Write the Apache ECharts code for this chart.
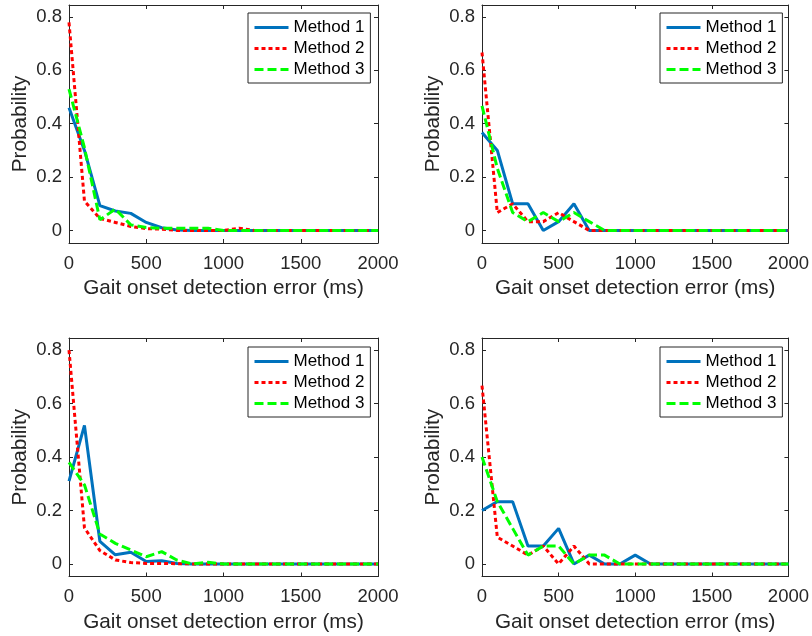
<!DOCTYPE html>
<html>
<head>
<meta charset="utf-8">
<script src="https://cdn.jsdelivr.net/npm/echarts@6/dist/echarts.min.js"></script>
<style>
html,body{margin:0;padding:0;background:#fff;}
#chart{width:812px;height:636px;}
</style>
</head>
<body>
<div id="chart"></div>
<script>
// ---- data ----
var xValues = [0,100,200,300,400,500,600,700,800,900,1000,1100,1200,1300,1400,1500,1600,1700,1800,1900,2000];
var seriesNames = ['Method 1','Method 2','Method 3'];
var xTicks = [0,500,1000,1500,2000];
var yTicks = [0,0.2,0.4,0.6,0.8];
var xLabel = 'Gait onset detection error (ms)';
var yLabel = 'Probability';

// panel 1 (top-left)
var p1Method1 = [0.46,0.30,0.093,0.073,0.064,0.03,0.01,0.002,0,0,0,0,0,0,0,0,0,0,0,0,0];
var p1Method2 = [0.78,0.11,0.045,0.03,0.015,0.007,0.005,0,0,0,0,0.008,0,0,0,0,0,0,0,0,0];
var p1Method3 = [0.53,0.31,0.04,0.08,0.021,0.011,0.008,0.008,0.008,0.008,0,0,0,0,0,0,0,0,0,0,0];
// panel 2 (top-right)
var p2Method1 = [0.367,0.3,0.1,0.1,0,0.033,0.1,0,0,0,0,0,0,0,0,0,0,0,0,0,0];
var p2Method2 = [0.667,0.067,0.1,0.033,0.033,0.067,0.033,0,0,0,0,0,0,0,0,0,0,0,0,0,0];
var p2Method3 = [0.467,0.233,0.067,0.033,0.067,0.033,0.067,0.033,0,0,0,0,0,0,0,0,0,0,0,0,0];
// panel 3 (bottom-left)
var p3Method1 = [0.31,0.518,0.084,0.034,0.044,0.009,0.012,0.002,0,0,0,0,0,0,0,0,0,0,0,0,0];
var p3Method2 = [0.80,0.135,0.05,0.015,0.005,0.002,0.002,0.001,0,0,0,0,0,0,0,0,0,0,0,0,0];
var p3Method3 = [0.38,0.296,0.112,0.077,0.052,0.027,0.046,0.014,0,0.006,0,0,0,0,0,0,0,0,0,0,0];
// panel 4 (bottom-right)
var p4Method1 = [0.2,0.233,0.233,0.067,0.067,0.133,0,0.033,0,0,0.033,0,0,0,0,0,0,0,0,0,0];
var p4Method2 = [0.667,0.1,0.067,0.033,0.067,0,0.067,0,0,0,0,0,0,0,0,0,0,0,0,0,0];
var p4Method3 = [0.4,0.233,0.133,0.033,0.067,0.067,0,0.033,0.033,0,0,0,0,0,0,0,0,0,0,0,0];

var panels = [
  [p1Method1,p1Method2,p1Method3],
  [p2Method1,p2Method2,p2Method3],
  [p3Method1,p3Method2,p3Method3],
  [p4Method1,p4Method2,p4Method3]
];

// ---- layout / style ----
var FONT = '"Liberation Sans", Helvetica, Arial, sans-serif';
var AX = '#262626';
var grids = [
  {left:69, top:5, width:309, height:238},
  {left:482, top:5, width:307, height:238},
  {left:69, top:338, width:309, height:238.5},
  {left:482, top:338, width:307, height:238.5}
];
var legendPos = [
  {left:248, top:13},
  {left:660, top:13},
  {left:248, top:347},
  {left:660, top:347}
];
var lineStyles = [
  {color:'#0072BD', width:3, type:'solid'},
  {color:'#FF0000', width:3, type:[4,3]},
  {color:'#00FF00', width:3, type:[9,4]}
];
var Y_MIN = -0.047, Y_MAX = 0.845;

var option = {
  animation:false,
  backgroundColor:'#fff',
  textStyle:{fontFamily:FONT},
  grid:[], xAxis:[], yAxis:[], legend:[], series:[]
};

grids.forEach(function(g, i){
  option.grid.push(Object.assign({show:false, containLabel:false}, g));
  // bottom x
  option.xAxis.push({
    type:'value', gridIndex:i, position:'bottom', min:0, max:2000, interval:500,
    axisLine:{show:true, onZero:false, lineStyle:{color:AX, width:1}},
    axisTick:{show:true, inside:true, length:4, lineStyle:{color:AX}, customValues:xTicks},
    axisLabel:{show:true, color:AX, fontSize:18.5, margin:11, fontFamily:FONT, customValues:xTicks,
      formatter:function(v){ return String(v); }},
    splitLine:{show:false},
    name:xLabel, nameLocation:'middle', nameGap:35,
    nameTextStyle:{color:AX, fontSize:20.7, fontFamily:FONT}
  });
  // top x (ticks only)
  option.xAxis.push({
    type:'value', gridIndex:i, position:'top', min:0, max:2000, interval:500,
    axisLine:{show:true, onZero:false, lineStyle:{color:AX, width:1}},
    axisTick:{show:true, inside:true, length:4, lineStyle:{color:AX}, customValues:xTicks},
    axisLabel:{show:false}, splitLine:{show:false}
  });
  // left y
  option.yAxis.push({
    type:'value', gridIndex:i, position:'left', min:Y_MIN, max:Y_MAX,
    axisLine:{show:true, onZero:false, lineStyle:{color:AX, width:1}},
    axisTick:{show:true, inside:true, length:4, lineStyle:{color:AX}, customValues:yTicks},
    axisLabel:{show:true, color:AX, fontSize:18.5, margin:7, fontFamily:FONT, customValues:yTicks,
      formatter:function(v){ return v === 0 ? '0' : v.toFixed(1); }},
    splitLine:{show:false},
    name:yLabel, nameLocation:'middle', nameGap:38,
    nameTextStyle:{color:AX, fontSize:20.7, fontFamily:FONT}
  });
  // right y (ticks only)
  option.yAxis.push({
    type:'value', gridIndex:i, position:'right', min:Y_MIN, max:Y_MAX,
    axisLine:{show:true, onZero:false, lineStyle:{color:AX, width:1}},
    axisTick:{show:true, inside:true, length:4, lineStyle:{color:AX}, customValues:yTicks},
    axisLabel:{show:false, customValues:yTicks}, splitLine:{show:false}
  });

  option.legend.push({
    orient:'vertical', left:legendPos[i].left, top:legendPos[i].top,
    data:seriesNames, selectedMode:false,
    backgroundColor:'#fff', borderColor:AX, borderWidth:1, borderRadius:0,
    padding:[5.5,6,4.5,5], itemGap:3, itemWidth:34, itemHeight:14,
    itemStyle:{color:'rgba(0,0,0,0)', borderColor:'rgba(0,0,0,0)', borderWidth:0, opacity:0},
    lineStyle:{width:3},
    textStyle:{color:'#000', fontSize:17, lineHeight:18, fontFamily:FONT}
  });

  panels[i].forEach(function(vals, k){
    option.series.push({
      type:'line', name:seriesNames[k],
      xAxisIndex:2*i, yAxisIndex:2*i,
      data:xValues.map(function(x, j){ return [x, vals[j]]; }),
      symbol:'none', showSymbol:false, smooth:false, clip:true,
      z:2+k,
      lineStyle:lineStyles[k],
      itemStyle:{color:lineStyles[k].color}
    });
  });
});

var chart = echarts.init(document.getElementById('chart'), null, {renderer:'canvas'});
chart.setOption(option);
</script>
</body>
</html>
